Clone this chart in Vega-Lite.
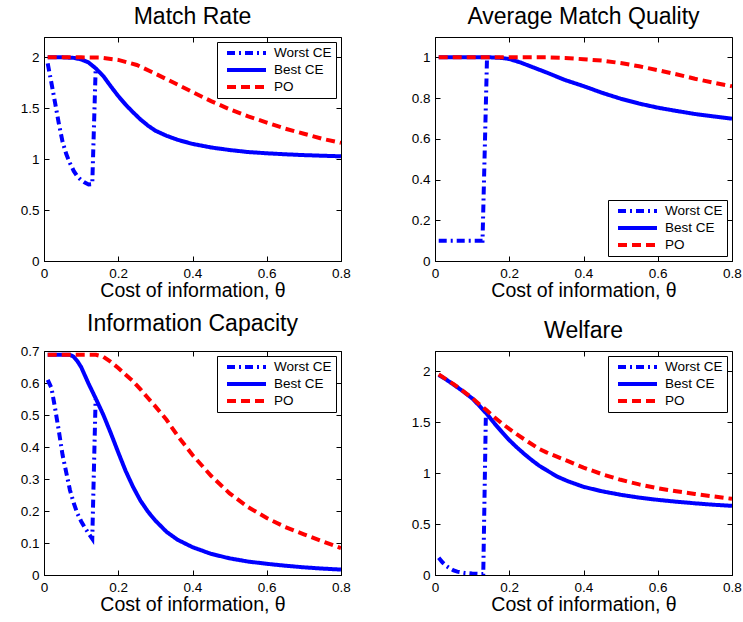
{
  "$schema": "https://vega.github.io/schema/vega-lite/v6.json",
  "padding": {"left": 19, "top": 5, "right": 0, "bottom": 0},
  "config": {
    "font": "Liberation Sans",
    "view": {"stroke": "black", "strokeWidth": 1},
    "axis": {
      "domainColor": "black", "tickColor": "black", "labelColor": "black",
      "labelFont": "Liberation Sans", "labelFontSize": 13.5,
      "titleFont": "Liberation Sans", "titleFontSize": 19.5, "titleFontWeight": "normal", "titleColor": "black",
      "grid": false, "tickSize": -5, "labelPadding": 10, "titlePadding": 2,
      "labelFlush": false, "labelOverlap": false, "format": "~g"
    },
    "legend": {
      "labelFont": "Liberation Sans", "labelFontSize": 13.5, "labelColor": "black",
      "strokeColor": "black", "fillColor": "white", "padding": 4, "cornerRadius": 0,
      "symbolType": "stroke", "symbolSize": 1521, "symbolStrokeWidth": 4, "clipHeight": 14,
      "symbolOffset": 4, "labelOffset": 6, "offset": 5, "rowPadding": 3
    },
    "title": {"font": "Liberation Sans", "fontSize": 23, "fontWeight": "normal", "color": "black", "frame": "group", "anchor": "middle", "offset": 8}
  },
  "datasets": {
    "mr": [
      {"x": 0.01, "y": 1.94, "s": "Worst CE"}, {"x": 0.02, "y": 1.75, "s": "Worst CE"}, {"x": 0.03, "y": 1.55, "s": "Worst CE"}, {"x": 0.04, "y": 1.35, "s": "Worst CE"}, {"x": 0.05, "y": 1.17, "s": "Worst CE"}, {"x": 0.06, "y": 1.05, "s": "Worst CE"}, {"x": 0.07, "y": 0.96, "s": "Worst CE"}, {"x": 0.08, "y": 0.885, "s": "Worst CE"}, {"x": 0.09, "y": 0.83, "s": "Worst CE"}, {"x": 0.1, "y": 0.795, "s": "Worst CE"}, {"x": 0.11, "y": 0.77, "s": "Worst CE"}, {"x": 0.12, "y": 0.752, "s": "Worst CE"}, {"x": 0.13, "y": 0.755, "s": "Worst CE"}, {"x": 0.139, "y": 1.87, "s": "Worst CE"},
      {"x": 0.01, "y": 2.0, "s": "Best CE"}, {"x": 0.05, "y": 2.0, "s": "Best CE"}, {"x": 0.08, "y": 1.995, "s": "Best CE"}, {"x": 0.1, "y": 1.98, "s": "Best CE"}, {"x": 0.12, "y": 1.95, "s": "Best CE"}, {"x": 0.14, "y": 1.89, "s": "Best CE"}, {"x": 0.16, "y": 1.815, "s": "Best CE"}, {"x": 0.18, "y": 1.715, "s": "Best CE"}, {"x": 0.2, "y": 1.62, "s": "Best CE"}, {"x": 0.22, "y": 1.535, "s": "Best CE"}, {"x": 0.24, "y": 1.46, "s": "Best CE"}, {"x": 0.26, "y": 1.39, "s": "Best CE"}, {"x": 0.28, "y": 1.33, "s": "Best CE"}, {"x": 0.3, "y": 1.28, "s": "Best CE"}, {"x": 0.33, "y": 1.23, "s": "Best CE"}, {"x": 0.36, "y": 1.19, "s": "Best CE"}, {"x": 0.4, "y": 1.15, "s": "Best CE"}, {"x": 0.45, "y": 1.115, "s": "Best CE"}, {"x": 0.5, "y": 1.09, "s": "Best CE"}, {"x": 0.55, "y": 1.07, "s": "Best CE"}, {"x": 0.6, "y": 1.058, "s": "Best CE"}, {"x": 0.65, "y": 1.048, "s": "Best CE"}, {"x": 0.7, "y": 1.04, "s": "Best CE"}, {"x": 0.75, "y": 1.034, "s": "Best CE"}, {"x": 0.8, "y": 1.028, "s": "Best CE"},
      {"x": 0.01, "y": 2.0, "s": "PO"}, {"x": 0.1, "y": 2.0, "s": "PO"}, {"x": 0.15, "y": 1.998, "s": "PO"}, {"x": 0.2, "y": 1.975, "s": "PO"}, {"x": 0.25, "y": 1.925, "s": "PO"}, {"x": 0.3, "y": 1.84, "s": "PO"}, {"x": 0.35, "y": 1.75, "s": "PO"}, {"x": 0.4, "y": 1.66, "s": "PO"}, {"x": 0.45, "y": 1.57, "s": "PO"}, {"x": 0.5, "y": 1.49, "s": "PO"}, {"x": 0.55, "y": 1.42, "s": "PO"}, {"x": 0.6, "y": 1.36, "s": "PO"}, {"x": 0.65, "y": 1.3, "s": "PO"}, {"x": 0.7, "y": 1.25, "s": "PO"}, {"x": 0.75, "y": 1.2, "s": "PO"}, {"x": 0.8, "y": 1.16, "s": "PO"}
    ],
    "amq": [
      {"x": 0.01, "y": 0.1, "s": "Worst CE"}, {"x": 0.05, "y": 0.1, "s": "Worst CE"}, {"x": 0.1, "y": 0.1, "s": "Worst CE"}, {"x": 0.128, "y": 0.1, "s": "Worst CE"}, {"x": 0.14, "y": 0.99, "s": "Worst CE"},
      {"x": 0.01, "y": 1.0, "s": "Best CE"}, {"x": 0.1, "y": 1.0, "s": "Best CE"}, {"x": 0.15, "y": 1.0, "s": "Best CE"}, {"x": 0.18, "y": 0.997, "s": "Best CE"}, {"x": 0.2, "y": 0.992, "s": "Best CE"}, {"x": 0.23, "y": 0.975, "s": "Best CE"}, {"x": 0.26, "y": 0.954, "s": "Best CE"}, {"x": 0.3, "y": 0.926, "s": "Best CE"}, {"x": 0.35, "y": 0.889, "s": "Best CE"}, {"x": 0.4, "y": 0.859, "s": "Best CE"}, {"x": 0.45, "y": 0.826, "s": "Best CE"}, {"x": 0.5, "y": 0.797, "s": "Best CE"}, {"x": 0.55, "y": 0.773, "s": "Best CE"}, {"x": 0.6, "y": 0.753, "s": "Best CE"}, {"x": 0.65, "y": 0.737, "s": "Best CE"}, {"x": 0.7, "y": 0.722, "s": "Best CE"}, {"x": 0.75, "y": 0.71, "s": "Best CE"}, {"x": 0.8, "y": 0.699, "s": "Best CE"},
      {"x": 0.01, "y": 1.0, "s": "PO"}, {"x": 0.3, "y": 1.0, "s": "PO"}, {"x": 0.35, "y": 0.997, "s": "PO"}, {"x": 0.4, "y": 0.991, "s": "PO"}, {"x": 0.45, "y": 0.984, "s": "PO"}, {"x": 0.5, "y": 0.972, "s": "PO"}, {"x": 0.55, "y": 0.956, "s": "PO"}, {"x": 0.6, "y": 0.937, "s": "PO"}, {"x": 0.65, "y": 0.917, "s": "PO"}, {"x": 0.7, "y": 0.895, "s": "PO"}, {"x": 0.75, "y": 0.876, "s": "PO"}, {"x": 0.8, "y": 0.858, "s": "PO"}
    ],
    "ic": [
      {"x": 0.01, "y": 0.61, "s": "Worst CE"}, {"x": 0.02, "y": 0.585, "s": "Worst CE"}, {"x": 0.03, "y": 0.52, "s": "Worst CE"}, {"x": 0.04, "y": 0.45, "s": "Worst CE"}, {"x": 0.05, "y": 0.375, "s": "Worst CE"}, {"x": 0.06, "y": 0.32, "s": "Worst CE"}, {"x": 0.07, "y": 0.265, "s": "Worst CE"}, {"x": 0.08, "y": 0.225, "s": "Worst CE"}, {"x": 0.09, "y": 0.192, "s": "Worst CE"}, {"x": 0.1, "y": 0.168, "s": "Worst CE"}, {"x": 0.11, "y": 0.148, "s": "Worst CE"}, {"x": 0.12, "y": 0.13, "s": "Worst CE"}, {"x": 0.13, "y": 0.113, "s": "Worst CE"}, {"x": 0.139, "y": 0.55, "s": "Worst CE"},
      {"x": 0.01, "y": 0.688, "s": "Best CE"}, {"x": 0.07, "y": 0.688, "s": "Best CE"}, {"x": 0.08, "y": 0.682, "s": "Best CE"}, {"x": 0.09, "y": 0.668, "s": "Best CE"}, {"x": 0.1, "y": 0.65, "s": "Best CE"}, {"x": 0.12, "y": 0.598, "s": "Best CE"}, {"x": 0.14, "y": 0.55, "s": "Best CE"}, {"x": 0.16, "y": 0.5, "s": "Best CE"}, {"x": 0.18, "y": 0.443, "s": "Best CE"}, {"x": 0.2, "y": 0.383, "s": "Best CE"}, {"x": 0.22, "y": 0.325, "s": "Best CE"}, {"x": 0.24, "y": 0.275, "s": "Best CE"}, {"x": 0.26, "y": 0.232, "s": "Best CE"}, {"x": 0.28, "y": 0.198, "s": "Best CE"}, {"x": 0.3, "y": 0.17, "s": "Best CE"}, {"x": 0.33, "y": 0.135, "s": "Best CE"}, {"x": 0.36, "y": 0.11, "s": "Best CE"}, {"x": 0.4, "y": 0.087, "s": "Best CE"}, {"x": 0.45, "y": 0.066, "s": "Best CE"}, {"x": 0.5, "y": 0.052, "s": "Best CE"}, {"x": 0.55, "y": 0.042, "s": "Best CE"}, {"x": 0.6, "y": 0.035, "s": "Best CE"}, {"x": 0.65, "y": 0.029, "s": "Best CE"}, {"x": 0.7, "y": 0.024, "s": "Best CE"}, {"x": 0.75, "y": 0.02, "s": "Best CE"}, {"x": 0.8, "y": 0.017, "s": "Best CE"},
      {"x": 0.01, "y": 0.688, "s": "PO"}, {"x": 0.14, "y": 0.688, "s": "PO"}, {"x": 0.16, "y": 0.682, "s": "PO"}, {"x": 0.18, "y": 0.666, "s": "PO"}, {"x": 0.2, "y": 0.647, "s": "PO"}, {"x": 0.22, "y": 0.626, "s": "PO"}, {"x": 0.24, "y": 0.605, "s": "PO"}, {"x": 0.26, "y": 0.58, "s": "PO"}, {"x": 0.28, "y": 0.553, "s": "PO"}, {"x": 0.3, "y": 0.527, "s": "PO"}, {"x": 0.33, "y": 0.485, "s": "PO"}, {"x": 0.36, "y": 0.435, "s": "PO"}, {"x": 0.4, "y": 0.375, "s": "PO"}, {"x": 0.45, "y": 0.31, "s": "PO"}, {"x": 0.5, "y": 0.255, "s": "PO"}, {"x": 0.55, "y": 0.212, "s": "PO"}, {"x": 0.6, "y": 0.178, "s": "PO"}, {"x": 0.65, "y": 0.15, "s": "PO"}, {"x": 0.7, "y": 0.127, "s": "PO"}, {"x": 0.75, "y": 0.105, "s": "PO"}, {"x": 0.8, "y": 0.084, "s": "PO"}
    ],
    "w": [
      {"x": 0.01, "y": 0.17, "s": "Worst CE"}, {"x": 0.02, "y": 0.125, "s": "Worst CE"}, {"x": 0.03, "y": 0.09, "s": "Worst CE"}, {"x": 0.04, "y": 0.065, "s": "Worst CE"}, {"x": 0.05, "y": 0.045, "s": "Worst CE"}, {"x": 0.06, "y": 0.033, "s": "Worst CE"}, {"x": 0.08, "y": 0.02, "s": "Worst CE"}, {"x": 0.1, "y": 0.014, "s": "Worst CE"}, {"x": 0.12, "y": 0.01, "s": "Worst CE"}, {"x": 0.13, "y": 0.01, "s": "Worst CE"}, {"x": 0.137, "y": 1.57, "s": "Worst CE"},
      {"x": 0.01, "y": 1.965, "s": "Best CE"}, {"x": 0.03, "y": 1.92, "s": "Best CE"}, {"x": 0.05, "y": 1.87, "s": "Best CE"}, {"x": 0.075, "y": 1.805, "s": "Best CE"}, {"x": 0.1, "y": 1.735, "s": "Best CE"}, {"x": 0.12, "y": 1.66, "s": "Best CE"}, {"x": 0.14, "y": 1.58, "s": "Best CE"}, {"x": 0.16, "y": 1.49, "s": "Best CE"}, {"x": 0.18, "y": 1.405, "s": "Best CE"}, {"x": 0.2, "y": 1.325, "s": "Best CE"}, {"x": 0.22, "y": 1.255, "s": "Best CE"}, {"x": 0.24, "y": 1.19, "s": "Best CE"}, {"x": 0.26, "y": 1.13, "s": "Best CE"}, {"x": 0.28, "y": 1.075, "s": "Best CE"}, {"x": 0.3, "y": 1.03, "s": "Best CE"}, {"x": 0.33, "y": 0.965, "s": "Best CE"}, {"x": 0.36, "y": 0.918, "s": "Best CE"}, {"x": 0.4, "y": 0.866, "s": "Best CE"}, {"x": 0.45, "y": 0.822, "s": "Best CE"}, {"x": 0.5, "y": 0.788, "s": "Best CE"}, {"x": 0.55, "y": 0.76, "s": "Best CE"}, {"x": 0.6, "y": 0.738, "s": "Best CE"}, {"x": 0.65, "y": 0.72, "s": "Best CE"}, {"x": 0.7, "y": 0.704, "s": "Best CE"}, {"x": 0.75, "y": 0.69, "s": "Best CE"}, {"x": 0.8, "y": 0.679, "s": "Best CE"},
      {"x": 0.01, "y": 1.97, "s": "PO"}, {"x": 0.05, "y": 1.875, "s": "PO"}, {"x": 0.1, "y": 1.74, "s": "PO"}, {"x": 0.12, "y": 1.675, "s": "PO"}, {"x": 0.14, "y": 1.615, "s": "PO"}, {"x": 0.16, "y": 1.55, "s": "PO"}, {"x": 0.18, "y": 1.49, "s": "PO"}, {"x": 0.2, "y": 1.435, "s": "PO"}, {"x": 0.22, "y": 1.383, "s": "PO"}, {"x": 0.25, "y": 1.31, "s": "PO"}, {"x": 0.28, "y": 1.24, "s": "PO"}, {"x": 0.3, "y": 1.205, "s": "PO"}, {"x": 0.33, "y": 1.16, "s": "PO"}, {"x": 0.36, "y": 1.115, "s": "PO"}, {"x": 0.4, "y": 1.055, "s": "PO"}, {"x": 0.45, "y": 0.99, "s": "PO"}, {"x": 0.5, "y": 0.935, "s": "PO"}, {"x": 0.55, "y": 0.89, "s": "PO"}, {"x": 0.6, "y": 0.852, "s": "PO"}, {"x": 0.65, "y": 0.822, "s": "PO"}, {"x": 0.7, "y": 0.796, "s": "PO"}, {"x": 0.75, "y": 0.772, "s": "PO"}, {"x": 0.8, "y": 0.748, "s": "PO"}
    ]
  },
  "columns": 2,
  "spacing": {"row": 90, "column": 94},
  "bounds": "flush",
  "concat": [
    {
      "title": "Match Rate", "width": 297, "height": 224, "data": {"name": "mr"},
      "layer": [
        {"mark": {"type": "line", "strokeWidth": 4, "clip": true},
         "encoding": {
           "x": {"field": "x", "type": "quantitative", "scale": {"domain": [0, 0.8], "nice": false}, "axis": {"title": "Cost of information, θ", "values": [0, 0.2, 0.4, 0.6, 0.8]}},
           "y": {"field": "y", "type": "quantitative", "scale": {"domain": [0, 2.2], "nice": false}, "axis": {"title": null, "values": [0, 0.5, 1, 1.5, 2]}},
           "color": {"field": "s", "type": "nominal", "scale": {"domain": ["Worst CE", "Best CE", "PO"], "range": ["#0000ff", "#0000ff", "#ff0000"]}, "legend": {"title": null, "orient": "top-right"}},
           "strokeDash": {"field": "s", "type": "nominal", "scale": {"domain": ["Worst CE", "Best CE", "PO"], "range": [[8, 4, 2, 4], [1, 0], [9, 5]]}, "legend": {"title": null, "orient": "top-right"}}
         }},
        {"mark": {"type": "line", "opacity": 0},
         "encoding": {
           "x": {"field": "x", "type": "quantitative", "axis": {"orient": "top", "title": null, "labels": false, "domain": false, "values": [0, 0.2, 0.4, 0.6, 0.8]}},
           "y": {"field": "y", "type": "quantitative", "axis": {"orient": "right", "title": null, "labels": false, "domain": false, "values": [0, 0.5, 1, 1.5, 2]}}
         }}
      ],
      "resolve": {"axis": {"x": "independent", "y": "independent"}}
    },
    {
      "title": "Average Match Quality", "width": 297, "height": 224, "data": {"name": "amq"},
      "layer": [
        {"mark": {"type": "line", "strokeWidth": 4, "clip": true},
         "encoding": {
           "x": {"field": "x", "type": "quantitative", "scale": {"domain": [0, 0.8], "nice": false}, "axis": {"title": "Cost of information, θ", "values": [0, 0.2, 0.4, 0.6, 0.8]}},
           "y": {"field": "y", "type": "quantitative", "scale": {"domain": [0, 1.1], "nice": false}, "axis": {"title": null, "values": [0, 0.2, 0.4, 0.6, 0.8, 1]}},
           "color": {"field": "s", "type": "nominal", "scale": {"domain": ["Worst CE", "Best CE", "PO"], "range": ["#0000ff", "#0000ff", "#ff0000"]}, "legend": {"title": null, "orient": "bottom-right"}},
           "strokeDash": {"field": "s", "type": "nominal", "scale": {"domain": ["Worst CE", "Best CE", "PO"], "range": [[8, 4, 2, 4], [1, 0], [9, 5]]}, "legend": {"title": null, "orient": "bottom-right"}}
         }},
        {"mark": {"type": "line", "opacity": 0},
         "encoding": {
           "x": {"field": "x", "type": "quantitative", "axis": {"orient": "top", "title": null, "labels": false, "domain": false, "values": [0, 0.2, 0.4, 0.6, 0.8]}},
           "y": {"field": "y", "type": "quantitative", "axis": {"orient": "right", "title": null, "labels": false, "domain": false, "values": [0, 0.2, 0.4, 0.6, 0.8, 1]}}
         }}
      ],
      "resolve": {"axis": {"x": "independent", "y": "independent"}}
    },
    {
      "title": "Information Capacity", "width": 297, "height": 224, "data": {"name": "ic"},
      "layer": [
        {"mark": {"type": "line", "strokeWidth": 4, "clip": true},
         "encoding": {
           "x": {"field": "x", "type": "quantitative", "scale": {"domain": [0, 0.8], "nice": false}, "axis": {"title": "Cost of information, θ", "values": [0, 0.2, 0.4, 0.6, 0.8]}},
           "y": {"field": "y", "type": "quantitative", "scale": {"domain": [0, 0.7], "nice": false}, "axis": {"title": null, "values": [0, 0.1, 0.2, 0.3, 0.4, 0.5, 0.6, 0.7]}},
           "color": {"field": "s", "type": "nominal", "scale": {"domain": ["Worst CE", "Best CE", "PO"], "range": ["#0000ff", "#0000ff", "#ff0000"]}, "legend": {"title": null, "orient": "top-right"}},
           "strokeDash": {"field": "s", "type": "nominal", "scale": {"domain": ["Worst CE", "Best CE", "PO"], "range": [[8, 4, 2, 4], [1, 0], [9, 5]]}, "legend": {"title": null, "orient": "top-right"}}
         }},
        {"mark": {"type": "line", "opacity": 0},
         "encoding": {
           "x": {"field": "x", "type": "quantitative", "axis": {"orient": "top", "title": null, "labels": false, "domain": false, "values": [0, 0.2, 0.4, 0.6, 0.8]}},
           "y": {"field": "y", "type": "quantitative", "axis": {"orient": "right", "title": null, "labels": false, "domain": false, "values": [0, 0.1, 0.2, 0.3, 0.4, 0.5, 0.6, 0.7]}}
         }}
      ],
      "resolve": {"axis": {"x": "independent", "y": "independent"}}
    },
    {
      "title": "Welfare", "width": 297, "height": 224, "data": {"name": "w"},
      "layer": [
        {"mark": {"type": "line", "strokeWidth": 4, "clip": true},
         "encoding": {
           "x": {"field": "x", "type": "quantitative", "scale": {"domain": [0, 0.8], "nice": false}, "axis": {"title": "Cost of information, θ", "values": [0, 0.2, 0.4, 0.6, 0.8]}},
           "y": {"field": "y", "type": "quantitative", "scale": {"domain": [0, 2.2], "nice": false}, "axis": {"title": null, "values": [0, 0.5, 1, 1.5, 2]}},
           "color": {"field": "s", "type": "nominal", "scale": {"domain": ["Worst CE", "Best CE", "PO"], "range": ["#0000ff", "#0000ff", "#ff0000"]}, "legend": {"title": null, "orient": "top-right"}},
           "strokeDash": {"field": "s", "type": "nominal", "scale": {"domain": ["Worst CE", "Best CE", "PO"], "range": [[8, 4, 2, 4], [1, 0], [9, 5]]}, "legend": {"title": null, "orient": "top-right"}}
         }},
        {"mark": {"type": "line", "opacity": 0},
         "encoding": {
           "x": {"field": "x", "type": "quantitative", "axis": {"orient": "top", "title": null, "labels": false, "domain": false, "values": [0, 0.2, 0.4, 0.6, 0.8]}},
           "y": {"field": "y", "type": "quantitative", "axis": {"orient": "right", "title": null, "labels": false, "domain": false, "values": [0, 0.5, 1, 1.5, 2]}}
         }}
      ],
      "resolve": {"axis": {"x": "independent", "y": "independent"}}
    }
  ]
}
